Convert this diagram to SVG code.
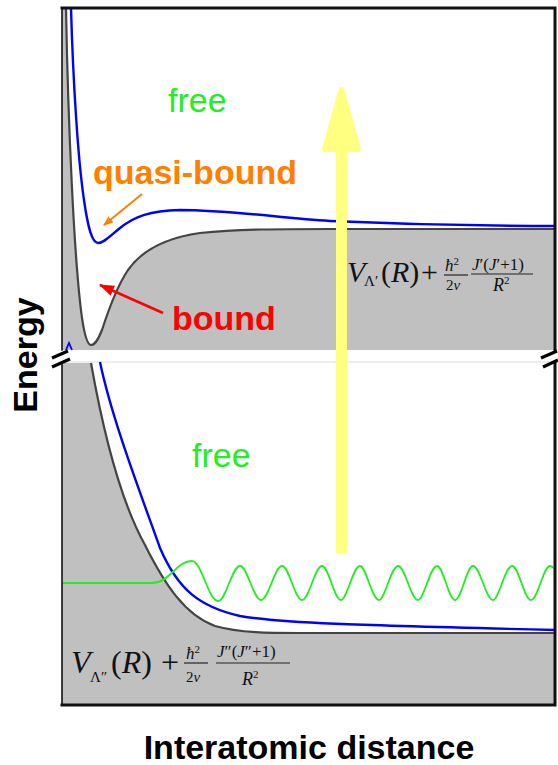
<svg xmlns="http://www.w3.org/2000/svg" width="558" height="765" viewBox="0 0 558 765">
<style>
.fill{fill:#c0c0c0;stroke:none}
.pot{fill:none;stroke:#444;stroke-width:2.2}
.blue{fill:none;stroke:#0000ff;stroke-width:2.4}
.border{fill:none;stroke:#111;stroke-linecap:square}
.lbl{font-family:"Liberation Sans",Arial,sans-serif;font-size:34px}
.b{font-weight:bold}
.m{font-family:"Liberation Serif","Times New Roman",serif;fill:#111}
.it{font-style:italic}
.frac{stroke:#222;stroke-width:1.2}
</style>
<defs>
<marker id="hOrange" markerWidth="10" markerHeight="8" refX="9" refY="4" orient="auto" markerUnits="userSpaceOnUse"><path d="M0,0 L10,4 L0,8 Z" fill="#ff8000"/></marker>
<marker id="hRed" markerWidth="15" markerHeight="11" refX="14" refY="5.5" orient="auto" markerUnits="userSpaceOnUse"><path d="M0,0 L15,5.5 L0,11 Z" fill="#ff0000"/></marker>
</defs>

<g id="upper-panel">
<path class="fill" d="M62,8 L66,8 C68,120 74,260 82,318 C85,338 88,345 91,345 C95,345 98,340 102,330 C110,305 118,285 128,270 C142,250 165,238 200,233 C240,229 280,229 330,229 L555,229 L555,350 L62,350 Z"/>
<path class="pot" d="M66,8 C68,120 74,260 82,318 C85,338 88,345 91,345 C95,345 98,340 102,330 C110,305 118,285 128,270 C142,250 165,238 200,233 C240,229 280,229 330,229 L555,229"/>
<path class="blue" d="M71,8 C73,80 78,160 84,200 C88,228 92,243 98,243 C104,243 110,236 120,228 C135,216 150,211 180,210 C230,210 280,218 330,221 C420,225 500,226 555,226"/>
<path class="blue" style="stroke-width:1.8" d="M66,350 L69,343 L72,350"/>
<path class="border" style="stroke-width:3" d="M62,8 L555,8 L555,350"/>
<path class="border" style="stroke-width:1.6" d="M62,8 L62,350"/>
</g>

<g id="lower-panel">
<line x1="62" y1="362" x2="555" y2="362" stroke="#dddddd" stroke-width="1"/>
<path class="fill" d="M62,363 L91,363 C102,425 120,500 145,545 C165,585 185,615 215,626 C240,633 270,633 300,633 L555,633 L555,705 L62,705 Z"/>
<path class="pot" d="M91,363 C102,425 120,500 145,545 C165,585 185,615 215,626 C240,633 270,633 300,633 L555,633"/>
<path class="blue" d="M100,362 C112,420 143,500 160,548 C178,590 200,607 240,616 C280,623 350,625 555,630"/>
<path id="wave" fill="none" stroke="#22ee22" stroke-width="1.8" d="M62,583 L152,583 C170,583 176,561 192,561 C201.5,561 208.5,601 218,601 C226,601 232,566 240,566 C247.6,566 253.4,600 261,600 C268.6,600 274.4,566 282,566 C289.3,566 294.7,600 302,600 C309.3,600 314.7,566 322,566 C328.9,566 334.1,600 341,600 C346.9,600 353.1,566 360,566 C365.9,566 372.1,600 379,600 C384.9,600 391.1,566 398,566 C405.3,566 410.7,600 418,600 C423.9,600 430.1,566 437,566 C443.5,566 448.5,600 455,600 C461.5,600 466.5,566 473,566 C480.3,566 485.7,600 493,600 C498.9,600 505.1,566 512,566 C518.9,566 524.1,600 531,600 C537.9,600 543.1,566 550,566 C551.5,566 552.8,567 554,568.5"/>
<path class="border" style="stroke-width:3" d="M555,362 L555,705 L62,705"/>
<path class="border" style="stroke-width:1.6" d="M62,363 L62,705"/>
</g>

<g id="breaks" stroke="#000" stroke-width="3.2" stroke-linecap="butt">
<line x1="52" y1="358" x2="68" y2="351"/>
<line x1="52" y1="367" x2="70" y2="359"/>
<line x1="541" y1="358" x2="557" y2="351"/>
<line x1="543" y1="367" x2="558" y2="360"/>
</g>

<g id="photon-arrow">
<rect x="336" y="148" width="11" height="405" fill="#ffff80"/>
<polygon points="341.5,90 325,149 358,149" fill="#ffff80" stroke="#ffff80" stroke-width="6" stroke-linejoin="round"/>
</g>

<g id="connectors">
<line x1="142" y1="194" x2="104" y2="225" stroke="#ff8000" stroke-width="2" marker-end="url(#hOrange)"/>
<line x1="163" y1="313" x2="100" y2="285" stroke="#ff0000" stroke-width="2.6" marker-end="url(#hRed)"/>
</g>

<g id="label-free-upper"><text class="lbl" x="168" y="112" fill="#22ee22">free</text></g>
<g id="label-free-lower"><text class="lbl" x="192" y="467" fill="#22ee22">free</text></g>
<g id="label-quasi"><text class="lbl b" x="93" y="184" fill="#ff8000">quasi-bound</text></g>
<g id="label-bound"><text class="lbl b" x="172" y="330" fill="#ff0000">bound</text></g>
<g id="axis-y"><text class="lbl b" x="0" y="0" text-anchor="middle" transform="translate(37,355) rotate(-90)" fill="#000">Energy</text></g>
<g id="axis-x"><text class="lbl b" x="309" y="759" text-anchor="middle" fill="#000">Interatomic distance</text></g>

<g id="formula-upper">
<text class="m it" x="347" y="282" font-size="30">V</text>
<text class="m" x="364" y="286" font-size="15">Λ′</text>
<text class="m" x="381" y="282" font-size="30">(<tspan class="it">R</tspan>)</text>
<text class="m" x="421" y="282" font-size="30">+</text>
<text class="m it" x="445" y="271" font-size="17">ħ<tspan font-style="normal" font-size="11" dy="-6">2</tspan></text>
<line class="frac" x1="444" y1="275" x2="468" y2="275"/>
<text class="m" x="446" y="289.5" font-size="15">2<tspan class="it">ν</tspan></text>
<text class="m" x="472" y="270" font-size="17"><tspan class="it">J</tspan>′(<tspan class="it">J</tspan>′+1)</text>
<line class="frac" x1="471" y1="274" x2="533" y2="274"/>
<text class="m it" x="493" y="291" font-size="18">R<tspan font-style="normal" font-size="11" dy="-7">2</tspan></text>
</g>

<g id="formula-lower">
<text class="m it" x="71" y="673" font-size="32">V</text>
<text class="m" x="90" y="682" font-size="15">Λ″</text>
<text class="m" x="111" y="673" font-size="32">(<tspan class="it">R</tspan>)</text>
<text class="m" x="161" y="673" font-size="32">+</text>
<text class="m it" x="186" y="659" font-size="17">ħ<tspan font-style="normal" font-size="11" dy="-6">2</tspan></text>
<line class="frac" x1="184" y1="663" x2="208" y2="663"/>
<text class="m" x="186" y="682" font-size="15">2<tspan class="it">ν</tspan></text>
<text class="m" x="217" y="657" font-size="17"><tspan class="it">J</tspan>″(<tspan class="it">J</tspan>″+1)</text>
<line class="frac" x1="216" y1="663" x2="290" y2="663"/>
<text class="m it" x="242" y="685" font-size="18">R<tspan font-style="normal" font-size="11" dy="-7">2</tspan></text>
</g>
</svg>
